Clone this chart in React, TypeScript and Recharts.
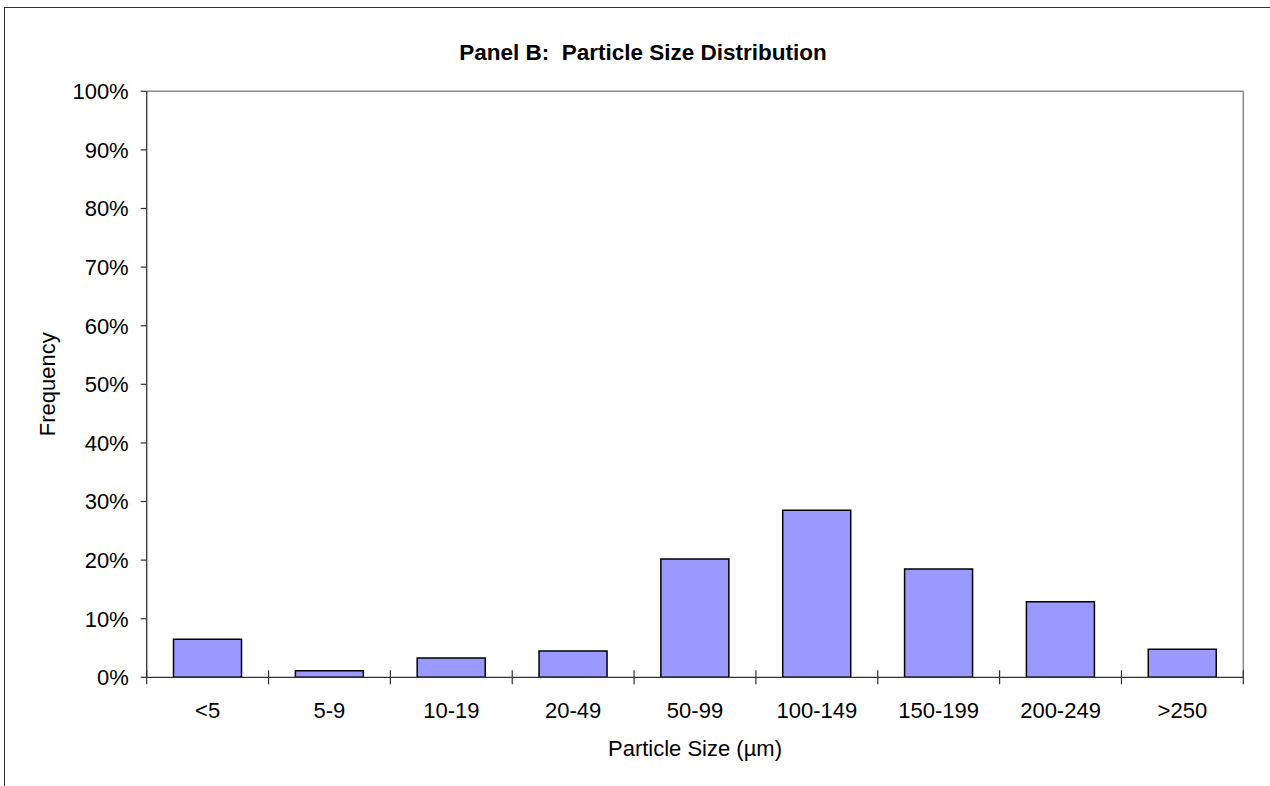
import React from 'react';
import { BarChart, Bar, XAxis, YAxis } from 'recharts';

const categories = ['<5', '5-9', '10-19', '20-49', '50-99', '100-149', '150-199', '200-249', '>250'];
const frequencies = [6.5, 1.1, 3.3, 4.5, 20.2, 28.5, 18.5, 12.9, 4.8];
const yTicks = [0, 10, 20, 30, 40, 50, 60, 70, 80, 90, 100];
const chartTitle = 'Panel B:  Particle Size Distribution';
const xTitle = 'Particle Size (µm)';
const yTitle = 'Frequency';

const data = categories.map((c, i) => ({ cat: c, freq: frequencies[i] }));

const FONT = '"Liberation Sans", Arial, Helvetica, sans-serif';
const FS = 22;
const LABEL_GAP = 25.5;
const CROSS = 7;

function CategoryTick(props: any) {
  const { x, y, payload } = props;
  const half = payload && typeof payload.offset === 'number' ? payload.offset : 0;
  const axisY = y - LABEL_GAP;
  const isLast = payload && payload.value === categories[categories.length - 1];
  return (
    <g>
      <line x1={x - half} x2={x - half} y1={axisY - CROSS} y2={axisY + CROSS} stroke="#333" strokeWidth={1.2} />
      {isLast && (
        <line x1={x + half} x2={x + half} y1={axisY - CROSS} y2={axisY + CROSS} stroke="#333" strokeWidth={1.2} />
      )}
      <text
        x={x}
        y={y}
        dy="0.71em"
        textAnchor="middle"
        fill="#000"
        style={{ fontFamily: FONT, fontSize: FS }}
      >
        {payload.value}
      </text>
    </g>
  );
}

function PercentTick(props: any) {
  const { x, y, payload } = props;
  return (
    <text
      x={x}
      y={y}
      dy="0.355em"
      textAnchor="end"
      fill="#000"
      style={{ fontFamily: FONT, fontSize: FS }}
    >
      {`${payload.value}%`}
    </text>
  );
}

export default function App() {
  return (
    <div
      style={{
        position: 'fixed',
        left: 0,
        top: 0,
        width: 1270,
        height: 786,
        overflow: 'hidden',
        background: '#fff',
        fontFamily: FONT,
      }}
    >
      <div
        style={{
          position: 'absolute',
          left: 4.25,
          top: 6.5,
          width: 1400,
          height: 900,
          borderLeft: '1.5px solid #333',
          borderTop: '1.5px solid #333',
        }}
      />
      <div
        style={{
          position: 'absolute',
          left: 0,
          top: 41.8,
          width: 1286,
          textAlign: 'center',
          fontSize: 22.5,
          lineHeight: '22px',
          fontWeight: 'bold',
          color: '#000',
          whiteSpace: 'pre',
        }}
      >
        {chartTitle}
      </div>
      <div style={{ position: 'absolute', left: 0, top: 0 }}>
        <BarChart
          width={1270}
          height={786}
          data={data}
          margin={{ top: 90.3, right: 25.7, bottom: 18.7, left: 36.7 }}
          barCategoryGap="22%"
        >
          <XAxis
            xAxisId="top"
            orientation="top"
            dataKey="cat"
            height={1}
            tick={false}
            tickLine={false}
            axisLine={{ stroke: '#888', strokeWidth: 1.5 }}
          />
          <YAxis
            yAxisId="right"
            orientation="right"
            width={1}
            domain={[0, 100]}
            tick={false}
            tickLine={false}
            axisLine={{ stroke: '#888', strokeWidth: 1.5 }}
          />
          <XAxis
            xAxisId="main"
            dataKey="cat"
            height={90}
            interval={0}
            tickSize={0}
            tickMargin={LABEL_GAP}
            tickLine={false}
            tick={<CategoryTick />}
            axisLine={{ stroke: '#333', strokeWidth: 1.2 }}
            label={{
              value: xTitle,
              position: 'insideBottom',
              offset: 11.6,
              style: { fontFamily: FONT, fontSize: FS, fill: '#000' },
            }}
          />
          <YAxis
            yAxisId="left"
            width={110}
            domain={[0, 100]}
            ticks={yTicks}
            interval={0}
            tickSize={6}
            tickMargin={12}
            tick={<PercentTick />}
            tickLine={{ stroke: '#333', strokeWidth: 1.2 }}
            axisLine={{ stroke: '#333', strokeWidth: 1.3 }}
            label={{
              value: yTitle,
              angle: -90,
              position: 'insideLeft',
              offset: 10,
              style: { textAnchor: 'middle', fontFamily: FONT, fontSize: FS, fill: '#000' },
            }}
          />
          <Bar
            xAxisId="main"
            yAxisId="left"
            dataKey="freq"
            fill="#9999ff"
            stroke="#000"
            strokeWidth={1.5}
            isAnimationActive={false}
          />
        </BarChart>
      </div>
    </div>
  );
}
